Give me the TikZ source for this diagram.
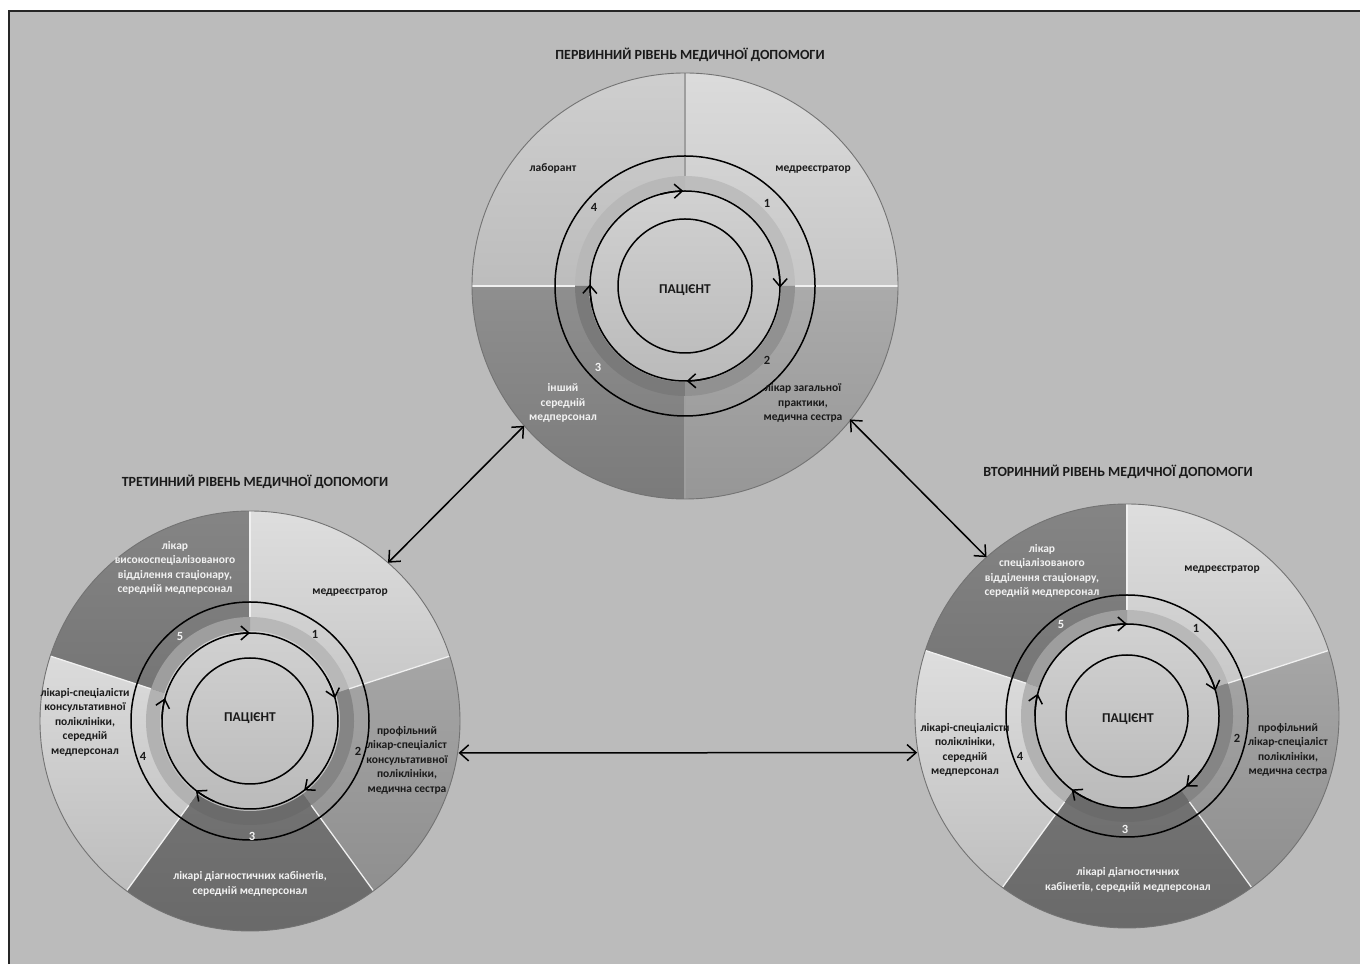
\documentclass[tikz,border=0pt]{standalone}
\usepackage{fontspec}
\setmainfont{Carlito}
\usetikzlibrary{arrows.meta}

\definecolor{bg}{HTML}{BBBBBB}
\definecolor{ink}{HTML}{1A1A1A}
\definecolor{paper}{HTML}{F2F2F2}

% shaded wedge: radius, start angle, end angle, top colour, bottom colour
\newcommand\wedgeshade[5]{%
  \shade[top color=#4, bottom color=#5] (0,0) -- (#2:#1)
    arc[start angle=#2, end angle=#3, radius=#1] -- cycle;}
% annular band: inner radius, outer radius, start angle, end angle, colour
\newcommand\bevelband[5]{%
  \fill[#5] (#3:#1) arc[start angle=#3, end angle=#4, radius=#1]
    -- (#4:#2) arc[start angle=#4, end angle=#3, radius=#2] -- cycle;}

\begin{document}
\begin{tikzpicture}[x=1pt,y=1pt,
  ringline/.style={draw=black, line width=1.5pt},
  flow/.style={-{Straight Barb[length=8pt,width=14pt]}, line width=1.5pt},
  link/.style={{Straight Barb[length=9pt,width=16pt]}-{Straight Barb[length=9pt,width=16pt]}, line width=1.5pt},
  divider/.style={draw=white!88!gray, line width=1.3pt},
  rim/.style={draw=black!55, line width=0.9pt},
  heading/.style={font=\fontsize{14}{16}\selectfont\bfseries, text=ink},
  lbl/.style={font=\fontsize{11.5}{14.5}\selectfont\bfseries, align=center, text=ink, inner sep=0pt},
  wlbl/.style={lbl, text=paper},
  numtxt/.style={font=\fontsize{12.5}{14}\selectfont\bfseries, text=ink, inner sep=0pt},
  wnumtxt/.style={numtxt, text=paper},
  patient/.style={font=\fontsize{13.5}{16}\selectfont\bfseries, text=ink}
]
\useasboundingbox (0,0) rectangle (1360,964);
\fill[white] (0,0) rectangle (1360,964);
\fill[bg] (9,0) rectangle (1360,953);
\draw[line width=1.5pt, black!85] (9,0) -- (9,953) -- (1360,953);

% ---------------- primary level (top) ----------------
\begin{scope}[shift={(685,678)}]
  \wedgeshade{213}{0}{90}{white!86!black}{white!78!black}
  \wedgeshade{213}{90}{180}{white!81!black}{white!74!black}
  \wedgeshade{213}{180}{270}{white!56!black}{white!48!black}
  \wedgeshade{213}{270}{360}{white!67!black}{white!59!black}
  \foreach \a in {0,180} \draw[divider] (\a:108) -- (\a:213);
  \foreach \a in {90,270} \draw[divider, draw=white!62!black] (\a:108) -- (\a:213);
  \bevelband{96}{110}{0}{90}{white!74!black}
  \bevelband{96}{110}{90}{180}{white!72!black}
  \bevelband{96}{110}{180}{270}{white!48!black}
  \bevelband{96}{110}{270}{360}{white!57!black}
  \shade[top color=white!82!black, bottom color=white!73!black] (0,0) circle[radius=96];
  \draw[rim] (0,0) circle[radius=213];
  \draw[ringline] (0,0) circle[radius=130];
  \draw[ringline] (0,0) circle[radius=95];
  \draw[ringline] (0,0) circle[radius=67];
  \foreach \a in {91,-1,-89,179}
    \draw[flow] ({\a+14}:95) arc[start angle={\a+14}, end angle=\a, radius=95];
  \coordinate (p-sw) at (221:213);
  \coordinate (p-se) at (-39:212);
\end{scope}
\node[heading] (p-title) at (690,909) {ПЕРВИННИЙ РІВЕНЬ МЕДИЧНОЇ ДОПОМОГИ};
\node[patient] (p-pat) at (685,674) {ПАЦІЄНТ};
\node[lbl] (p-lab) at (553,796) {лаборант};
\node[lbl] (p-reg) at (813,794) {медреєстратор};
\node[wlbl] (p-nur) at (563,561) {інший\\середній\\медперсонал};
\node[lbl] (p-gp) at (803,561) {лікар загальної\\практики,\\медична сестра};
\node[numtxt] (p-n1) at (767,761) {1};
\node[numtxt] (p-n2) at (767,604) {2};
\node[wnumtxt] (p-n3) at (598,597) {3};
\node[numtxt] (p-n4) at (594,757) {4};

% ---------------- tertiary level (left) ----------------
\begin{scope}[shift={(250,243)}]
  \wedgeshade{210}{18}{90}{white!87!black}{white!77!black}
  \wedgeshade{210}{-54}{18}{white!65!black}{white!56!black}
  \wedgeshade{210}{-126}{-54}{white!47!black}{white!41!black}
  \wedgeshade{210}{162}{234}{white!86!black}{white!74!black}
  \wedgeshade{210}{90}{162}{white!52!black}{white!45!black}
  \foreach \a in {18,-54,-126,162,90} \draw[divider] (\a:103) -- (\a:210);
  \bevelband{90}{104}{18}{90}{white!72!black}
  \bevelband{90}{104}{-54}{18}{white!52!black}
  \bevelband{90}{104}{-126}{-54}{white!42!black}
  \bevelband{90}{104}{162}{234}{white!70!black}
  \bevelband{90}{104}{90}{162}{white!62!black}
  \shade[top color=white!82!black, bottom color=white!73!black] (0,0) circle[radius=90];
  \draw[rim] (0,0) circle[radius=210];
  \draw[ringline] (0,0) circle[radius=119];
  \draw[ringline] (0,0) circle[radius=88];
  \draw[ringline] (0,0) circle[radius=63];
  \foreach \a in {90,15,-52,-128,165}
    \draw[flow] ({\a+14}:88) arc[start angle={\a+14}, end angle=\a, radius=88];
  \coordinate (t-ne) at (48.9:210);
  \coordinate (t-e) at (-8.7:211);
\end{scope}
\node[heading] (t-title) at (255,482) {ТРЕТИННИЙ РІВЕНЬ МЕДИЧНОЇ ДОПОМОГИ};
\node[patient] (t-pat) at (250,246) {ПАЦІЄНТ};
\node[wlbl] (t-hosp) at (175,396) {лікар\\високоспеціалізованого\\відділення стаціонару,\\середній медперсонал};
\node[lbl] (t-reg) at (350,371) {медреєстратор};
\node[lbl] (t-spec) at (407,204) {профільний\\лікар-спеціаліст\\консультативної\\поліклініки,\\медична сестра};
\node[lbl] (t-cons) at (85,242) {лікарі-спеціалісти\\консультативної\\поліклініки,\\середній\\медперсонал};
\node[wlbl] (t-diag) at (250,80) {лікарі діагностичних кабінетів,\\середній медперсонал};
\node[numtxt] (t-n1) at (315,330) {1};
\node[numtxt] (t-n2) at (358,213) {2};
\node[wnumtxt] (t-n3) at (252,128) {3};
\node[numtxt] (t-n4) at (143,208) {4};
\node[wnumtxt] (t-n5) at (180,328) {5};

% ---------------- secondary level (right) ----------------
\begin{scope}[shift={(1127,248)}]
  \wedgeshade{212}{18}{90}{white!87!black}{white!77!black}
  \wedgeshade{212}{-54}{18}{white!65!black}{white!56!black}
  \wedgeshade{212}{-126}{-54}{white!47!black}{white!41!black}
  \wedgeshade{212}{162}{234}{white!87!black}{white!75!black}
  \wedgeshade{212}{90}{162}{white!52!black}{white!45!black}
  \foreach \a in {18,-54,-126,162,90} \draw[divider] (\a:104) -- (\a:212);
  \bevelband{92}{106}{18}{90}{white!72!black}
  \bevelband{92}{106}{-54}{18}{white!52!black}
  \bevelband{92}{106}{-126}{-54}{white!42!black}
  \bevelband{92}{106}{162}{234}{white!70!black}
  \bevelband{92}{106}{90}{162}{white!62!black}
  \shade[top color=white!82!black, bottom color=white!73!black] (0,0) circle[radius=92];
  \draw[rim] (0,0) circle[radius=212];
  \draw[ringline] (0,0) circle[radius=121];
  \draw[ringline] (0,0) circle[radius=92];
  \draw[ringline] (0,0) circle[radius=61];
  \foreach \a in {90,16,-50,-127,166}
    \draw[flow] ({\a+14}:92) arc[start angle={\a+14}, end angle=\a, radius=92];
  \coordinate (s-nw) at (131.5:212);
  \coordinate (s-w) at (189.9:213);
\end{scope}
\node[heading] (s-title) at (1118,492) {ВТОРИННИЙ РІВЕНЬ МЕДИЧНОЇ ДОПОМОГИ};
\node[patient] (s-pat) at (1128,245) {ПАЦІЄНТ};
\node[wlbl] (s-hosp) at (1042,393) {лікар\\спеціалізованого\\відділення стаціонару,\\середній медперсонал};
\node[lbl] (s-reg) at (1222,394) {медреєстратор};
\node[lbl] (s-spec) at (1288,214) {профільний\\лікар-спеціаліст\\поліклініки,\\медична сестра};
\node[lbl] (s-poly) at (965,214) {лікарі-спеціалісти\\поліклініки,\\середній\\медперсонал};
\node[wlbl] (s-diag) at (1128,84) {лікарі діагностичних\\кабінетів, середній медперсонал};
\node[numtxt] (s-n1) at (1196,336) {1};
\node[numtxt] (s-n2) at (1237,226) {2};
\node[wnumtxt] (s-n3) at (1125,135) {3};
\node[numtxt] (s-n4) at (1020,208) {4};
\node[wnumtxt] (s-n5) at (1061,340) {5};

% ---------------- links between the levels ----------------
\draw[link] (p-sw) -- (t-ne);
\draw[link] (p-se) -- (s-nw);
\draw[link] (t-e) -- (s-w);
\end{tikzpicture}
\end{document}
